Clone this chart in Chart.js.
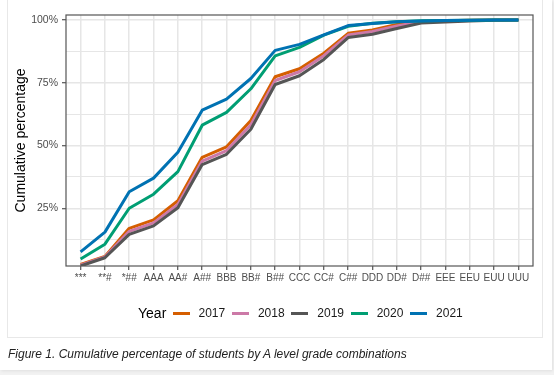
<!DOCTYPE html>
<html>
<head>
<meta charset="utf-8">
<script src="https://cdn.jsdelivr.net/npm/chart.js@4/dist/chart.umd.min.js"></script>
<style>
  html, body { margin: 0; padding: 0; }
  body { width: 554px; height: 375px; background: #f2f2f2; position: relative; overflow: hidden;
         font-family: "Liberation Sans", Arial, sans-serif; }
  .card { position: absolute; left: 0; top: 0; width: 552px; height: 370px; background: #fff;
          box-shadow: 1px 1px 3px rgba(0,0,0,0.08); }
  .inner { position: absolute; left: 7px; top: -2px; width: 534px; height: 338px; border: 1px solid #e8e8e8; }
  #chartWrap { position: absolute; left: 0; top: 0; width: 554px; height: 375px; }
  .legend { position: absolute; left: 138px; top: 304px; height: 18px; display: flex; align-items: center; }
  .legend .title { font-size: 14px; color: #000; width: 34.5px; }
  .legend .item { display: flex; align-items: center; width: 59.4px; }
  .legend .key { width: 17px; height: 3px; margin-right: 9px; }
  .legend .lab { font-size: 12px; color: #1a1a1a; }
  .caption { position: absolute; left: 8px; top: 347px; font-size: 12px; font-style: italic; color: #222; }
</style>
</head>
<body>
<div class="card"><div class="inner"></div></div>
<div id="chartWrap"><canvas id="cumChart" width="554" height="375"></canvas></div>
<div class="legend" id="legend"><span class="title">Year</span></div>
<div class="caption">Figure 1. Cumulative percentage of students by A level grade combinations</div>

<script>
// grade combinations along the x axis
const grades = ['***', '**#', '*##', 'AAA', 'AA#', 'A##', 'BBB', 'BB#', 'B##', 'CCC',
                'CC#', 'C##', 'DDD', 'DD#', 'D##', 'EEE', 'EEU', 'EUU', 'UUU'];

const years = ['2017', '2018', '2019', '2020', '2021'];
const yearColors = ['#D55E00', '#CC79A7', '#555555', '#009E73', '#0072B2'];

// cumulative percentage per year
const pct2017 = [2.6, 5.8, 17.0, 20.4, 28.0, 45.3, 49.5, 60.0, 77.4, 80.6, 86.8, 94.7, 96.0, 98.2, 99.5, 99.7, 99.9, 100, 100];
const pct2018 = [2.3, 5.6, 15.8, 19.2, 26.5, 43.8, 48.0, 58.3, 75.9, 79.4, 85.8, 94.0, 95.4, 97.6, 99.3, 99.6, 99.8, 99.9, 100];
const pct2019 = [2.0, 5.3, 14.6, 18.0, 25.2, 42.4, 46.5, 56.5, 74.3, 77.8, 84.3, 93.0, 94.3, 96.6, 98.8, 99.2, 99.6, 99.9, 100];
const pct2020 = [4.8, 10.7, 25.0, 30.6, 39.6, 58.1, 63.2, 72.6, 85.7, 89.1, 94.0, 97.5, 98.7, 99.3, 99.7, 99.8, 99.9, 100, 100];
const pct2021 = [7.6, 15.5, 31.6, 37.0, 47.3, 64.1, 68.5, 76.7, 87.9, 90.3, 94.1, 97.8, 98.6, 99.3, 99.6, 99.8, 99.9, 100, 100];

const yMajorTicks = [25, 50, 75, 100];
const yMinorTicks = [12.5, 37.5, 62.5, 87.5];

const allSeries = [pct2017, pct2018, pct2019, pct2020, pct2021];

// html legend
const legendEl = document.getElementById('legend');
years.forEach((yr, i) => {
    const item = document.createElement('span');
    item.className = 'item';
    item.innerHTML = `<span class="key" style="background:${yearColors[i]}"></span><span class="lab">${yr}</span>`;
    legendEl.appendChild(item);
});

// panel border drawn over everything (ggplot theme_bw style)
const panelBorder = {
    id: 'panelBorder',
    afterDraw(chart) {
        const { ctx, chartArea: a } = chart;
        ctx.save();
        ctx.strokeStyle = '#555';
        ctx.lineWidth = 1.2;
        ctx.strokeRect(a.left, a.top, a.right - a.left, a.bottom - a.top);
        ctx.restore();
    }
};

const datasets = years.map((yr, i) => ({
    label: yr,
    data: allSeries[i].map((v, idx) => ({ x: idx, y: v })),
    borderColor: yearColors[i],
    backgroundColor: yearColors[i],
    borderWidth: 3,
    pointRadius: 0,
    tension: 0,
    borderJoinStyle: 'round',
    order: years.length - 1 - i
}));

new Chart(document.getElementById('cumChart'), {
    type: 'line',
    data: { datasets },
    options: {
        responsive: false,
        animation: false,
        layout: { padding: { top: 15, right: 21, left: 0, bottom: 0 } },
        plugins: { legend: { display: false }, tooltip: { enabled: false } },
        scales: {
            x: {
                type: 'linear',
                min: -0.6,
                max: grades.length - 1 + 0.6,
                afterBuildTicks: scale => { scale.ticks = grades.map((g, i) => ({ value: i })); },
                afterFit: scale => { scale.height = 109; },
                border: { display: false },
                grid: { color: '#e6e6e6', lineWidth: 1.5, tickLength: 4, tickColor: '#333', tickWidth: 1 },
                ticks: {
                    autoSkip: false, maxRotation: 0, padding: 2,
                    color: '#4d4d4d',
                    font: { family: '"Liberation Sans", Arial', size: 10 },
                    callback: v => grades[v]
                }
            },
            y: {
                min: 2,
                max: 102,
                afterBuildTicks: scale => {
                    scale.ticks = [...yMinorTicks, ...yMajorTicks].sort((a, b) => a - b).map(v => ({ value: v }));
                },
                afterFit: scale => { scale.width = 66; },
                border: { display: false },
                grid: {
                    color: '#e6e6e6',
                    lineWidth: ctx => yMajorTicks.includes(ctx.tick && ctx.tick.value) ? 1.5 : 1.1,
                    tickLength: 4,
                    tickWidth: 1,
                    tickColor: ctx => yMajorTicks.includes(ctx.tick && ctx.tick.value) ? '#333' : 'rgba(0,0,0,0)'
                },
                ticks: {
                    padding: 4,
                    color: '#4d4d4d',
                    font: { family: '"Liberation Sans", Arial', size: 10.5 },
                    callback: v => yMajorTicks.includes(v) ? v + '%' : ''
                },
                title: {
                    display: true,
                    text: 'Cumulative percentage',
                    color: '#000',
                    font: { family: '"Liberation Sans", Arial', size: 14 },
                    padding: { top: 13, bottom: 0 }
                }
            }
        }
    },
    plugins: [panelBorder]
});
</script>
</body>
</html>
